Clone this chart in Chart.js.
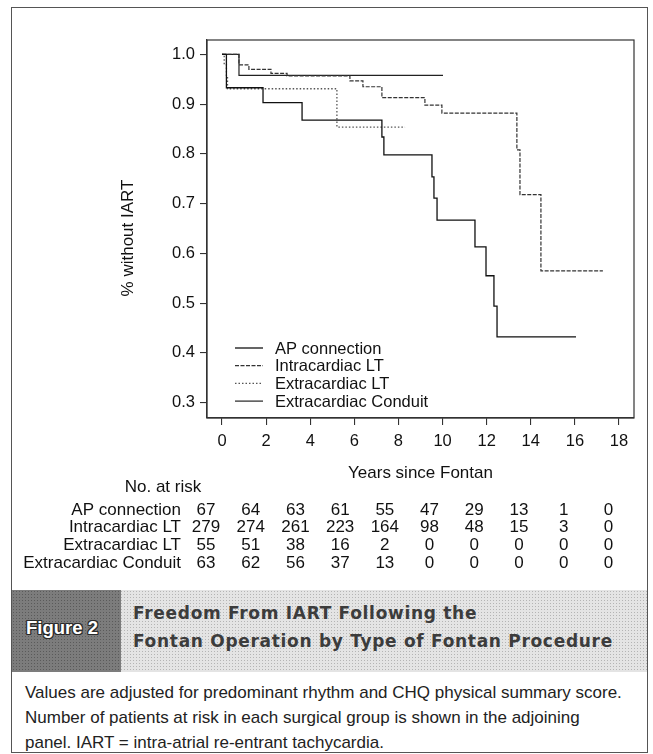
<!DOCTYPE html>
<html>
<head>
<meta charset="utf-8">
<script src="https://cdn.jsdelivr.net/npm/chart.js@4.4.1/dist/chart.umd.min.js"></script>
<style>
  html, body { margin: 0; padding: 0; background: #fff; }
  body { width: 653px; height: 754px; position: relative; overflow: hidden; font-family: "Liberation Sans", Arial, sans-serif; }
  #frame { position: absolute; left: 11px; top: 7px; width: 635px; height: 744px; border: 1px solid #555; }
  #chart { position: absolute; left: 0; top: 0; }
  #banner { position: absolute; left: 12px; top: 590px; width: 635px; height: 82px;
    background-color: #e4e4e4;
    background-image: radial-gradient(#b4b4b4 0.7px, transparent 0.9px);
    background-size: 3px 3px; }
  #tag { position: absolute; left: 0; top: 0; width: 109px; height: 82px;
    background-color: #7c7c7c;
    background-image: radial-gradient(#5a5a5a 0.8px, transparent 1px);
    background-size: 3px 3px; }
  #tag span { position: absolute; left: 14px; top: 27px; font-family: "Liberation Sans", Arial, sans-serif;
    font-weight: bold; font-size: 18.5px; color: #fff;
    text-shadow: 1px 0 #2a2a2a, -1px 0 #2a2a2a, 0 1px #2a2a2a, 0 -1px #2a2a2a, 1px 1px #2a2a2a, -1px -1px #2a2a2a, 1px -1px #2a2a2a, -1px 1px #2a2a2a; }
  #title { position: absolute; left: 121px; top: 9px; font-family: "DejaVu Sans", sans-serif; font-weight: bold;
    font-size: 17px; letter-spacing: 0.7px; color: #3c3c3c; line-height: 28px; white-space: nowrap; }
  #caption { position: absolute; left: 25px; top: 680px; font-size: 17px; line-height: 25px;
    color: #222; white-space: nowrap; }
</style>
</head>
<body>
<div id="frame"></div>
<canvas id="chart" width="653" height="590"></canvas>
<div id="banner">
  <div id="tag"><span>Figure 2</span></div>
  <div id="title">Freedom From IART Following the<br>Fontan Operation by Type of Fontan Procedure</div>
</div>
<div id="caption">Values are adjusted for predominant rhythm and CHQ physical summary score.<br>Number of patients at risk in each surgical group is shown in the adjoining<br>panel. IART = intra-atrial re-entrant tachycardia.</div>
<script>
// survival steps (years, proportion without IART)
var apTimes = [0, 0.2, 1.86, 3.63, 7.25, 7.34, 9.52, 9.61, 9.75, 11.47, 11.97, 12.33, 12.47, 16.05];
var apSurv = [1.0, 0.933, 0.903, 0.868, 0.834, 0.798, 0.754, 0.711, 0.667, 0.613, 0.555, 0.494, 0.432, 0.432];

var ilTimes = [0, 0.77, 1.22, 2.22, 2.95, 5.80, 6.39, 7.25, 9.2, 9.97, 13.37, 13.51, 14.46, 17.27];
var ilSurv = [1.0, 0.979, 0.970, 0.962, 0.957, 0.947, 0.935, 0.913, 0.898, 0.882, 0.808, 0.718, 0.565, 0.565];

var elTimes = [0, 0.1, 0.2, 0.25, 5.21, 8.3];
var elSurv = [1.0, 0.98, 0.955, 0.931, 0.854, 0.854];

var ecTimes = [0, 0.77, 10.02];
var ecSurv = [1.0, 0.958, 0.958];

var groups = ["AP connection", "Intracardiac LT", "Extracardiac LT", "Extracardiac Conduit"];

// x / y tick labels
var xTicks = [0, 2, 4, 6, 8, 10, 12, 14, 16, 18];
var yTicks = [0.3, 0.4, 0.5, 0.6, 0.7, 0.8, 0.9, 1.0];

// number at risk table
var riskYears = [0, 2, 4, 6, 8, 10, 12, 14, 16, 18];
var apRisk = [67, 64, 63, 61, 55, 47, 29, 13, 1, 0];
var ilRisk = [279, 274, 261, 223, 164, 98, 48, 15, 3, 0];
var elRisk = [55, 51, 38, 16, 2, 0, 0, 0, 0, 0];
var ecRisk = [63, 62, 56, 37, 13, 0, 0, 0, 0, 0];

function pts(t, s) {
    var out = [];
    for (var i = 0; i < t.length; i++) out.push({x: t[i], y: s[i]});
    return out;
}

var FONT = '"Liberation Sans", Arial, sans-serif';
Chart.defaults.font.family = FONT;
Chart.defaults.font.size = 16.5;
Chart.defaults.color = '#111';

var styles = [
    {color: '#111', dash: [], width: 1.3},
    {color: '#333', dash: [4, 1.5], width: 1.2},
    {color: '#555', dash: [1.5, 2], width: 1.3},
    {color: '#222', dash: [], width: 1.2}
];

var extras = {
    id: 'extras',
    afterDraw: function (chart) {
        var ctx = chart.ctx, a = chart.chartArea, xs = chart.scales.x;
        ctx.save();
        // box round the plot
        ctx.strokeStyle = '#333';
        ctx.lineWidth = 1.2;
        ctx.strokeRect(a.left, a.top, a.right - a.left, a.bottom - a.top);

        // y title
        ctx.save();
        ctx.translate(128, 238);
        ctx.rotate(-Math.PI / 2);
        ctx.fillStyle = '#111';
        ctx.font = '17px ' + FONT;
        ctx.textAlign = 'center';
        ctx.textBaseline = 'middle';
        ctx.fillText('% without IART', 0, 0);
        ctx.restore();

        // legend
        ctx.font = '16.5px ' + FONT;
        ctx.textBaseline = 'middle';
        ctx.textAlign = 'left';
        for (var i = 0; i < groups.length; i++) {
            var y = 348 + i * 17.7;
            ctx.strokeStyle = styles[i].color;
            ctx.lineWidth = styles[i].width;
            ctx.setLineDash(styles[i].dash);
            ctx.beginPath();
            ctx.moveTo(235, y);
            ctx.lineTo(263, y);
            ctx.stroke();
            ctx.setLineDash([]);
            ctx.fillStyle = '#111';
            ctx.fillText(groups[i], 275, y + 1);
        }

        // number at risk
        ctx.font = '17px ' + FONT;
        ctx.fillStyle = '#111';
        ctx.textAlign = 'center';
        ctx.fillText('No. at risk', 163, 487);
        var rows = [apRisk, ilRisk, elRisk, ecRisk];
        for (var r = 0; r < rows.length; r++) {
            var ry = 510 + r * 17.8;
            ctx.textAlign = 'right';
            ctx.fillText(groups[r], 181, ry);
            ctx.textAlign = 'center';
            for (var c = 0; c < riskYears.length; c++) {
                var px = xs.getPixelForValue(riskYears[c]) - 16 + c * 0.6;
                ctx.fillText(String(rows[r][c]), px, ry);
            }
        }
        ctx.restore();
    }
};

var sets = [pts(apTimes, apSurv), pts(ilTimes, ilSurv), pts(elTimes, elSurv), pts(ecTimes, ecSurv)];
var datasets = [];
for (var i = 0; i < sets.length; i++) {
    datasets.push({
        label: groups[i],
        data: sets[i],
        borderColor: styles[i].color,
        borderWidth: styles[i].width,
        borderDash: styles[i].dash,
        stepped: true,
        fill: false,
        pointRadius: 0
    });
}

new Chart(document.getElementById('chart').getContext('2d'), {
    type: 'line',
    data: {datasets: datasets},
    plugins: [extras],
    options: {
        responsive: false,
        animation: false,
        devicePixelRatio: 1,
        layout: {padding: {left: 0, right: 19, top: 40, bottom: 106}},
        plugins: {legend: {display: false}, tooltip: {enabled: false}},
        scales: {
            x: {
                type: 'linear',
                min: -0.68,
                max: 18.68,
                afterBuildTicks: function (s) { s.ticks = xTicks.map(function (v) { return {value: v}; }); },
                afterFit: function (s) { s.height = 66; },
                grid: {drawOnChartArea: false, tickLength: 7, color: '#333', lineWidth: 1.1},
                border: {display: true, color: '#333', width: 1.2},
                ticks: {padding: 7, maxRotation: 0, autoSkip: false, color: '#111'},
                title: {display: true, text: 'Years since Fontan', font: {size: 17}, color: '#111', padding: 0}
            },
            y: {
                min: 0.269,
                max: 1.029,
                afterBuildTicks: function (s) { s.ticks = yTicks.map(function (v) { return {value: v}; }); },
                afterFit: function (s) { s.width = 207; },
                grid: {drawOnChartArea: false, tickLength: 7, color: '#333', lineWidth: 1.1},
                border: {display: true, color: '#333', width: 1.2},
                ticks: {padding: 5, autoSkip: false, color: '#111', callback: function (v) { return v.toFixed(1); }}
            }
        }
    }
});
</script>
</body>
</html>
